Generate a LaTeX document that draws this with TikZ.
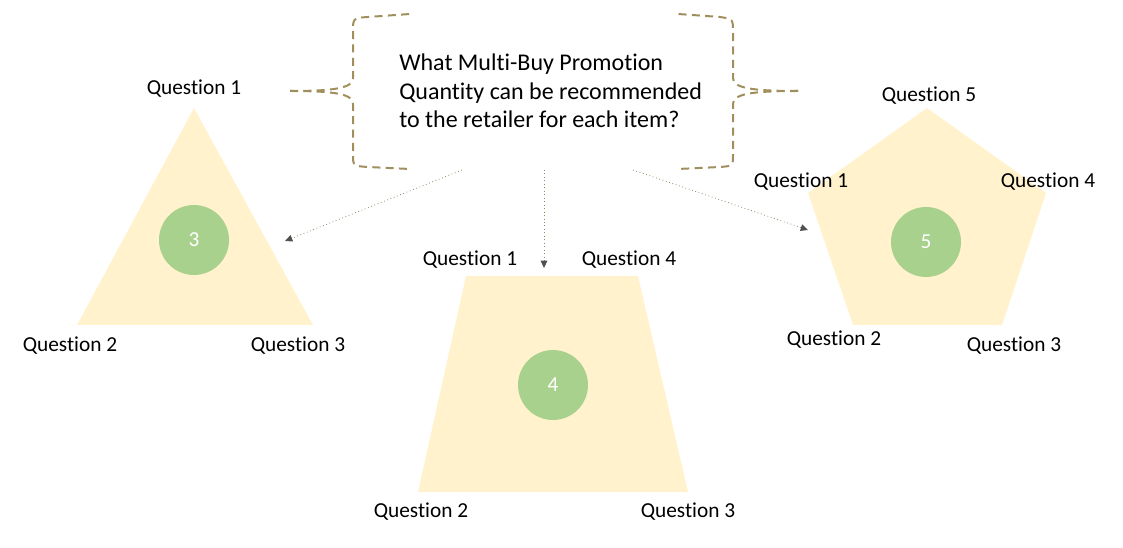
\documentclass[tikz,border=0pt]{standalone}
\usepackage{fontspec}
\setmainfont{Carlito}[Ligatures={NoCommon}]
\usetikzlibrary{arrows.meta}
\definecolor{shapefill}{RGB}{255,242,204}
\definecolor{circfill}{RGB}{169,209,142}
\definecolor{bracecol}{RGB}{160,142,92}
\definecolor{arrowline}{RGB}{120,150,100}
\definecolor{tipcol}{RGB}{80,80,80}
\begin{document}
\begin{tikzpicture}[x=0.75pt,y=-0.75pt,
  qlabel/.style={font=\fontsize{16}{19}\selectfont, inner sep=0pt},
  numcircle/.style={circle, fill=circfill, minimum size=52.5pt, inner sep=0pt, text=white, font=\fontsize{16}{19}\selectfont},
  shapebody/.style={fill=shapefill},
  bracestyle/.style={draw=bracecol, line width=1.5pt, dash pattern=on 6pt off 4pt},
  link/.style={draw=arrowline, dotted, line width=0.6pt, -{Triangle[length=5.5pt,width=5pt,color=tipcol]}}
]
\useasboundingbox (0,0) rectangle (1123,548);

% shapes
\fill[shapebody] (194,108) coordinate (triT) -- (313,325) coordinate (triR) -- (77,325) coordinate (triL) -- cycle;
\fill[shapebody] (466,276) coordinate (trapTL) -- (638,276) coordinate (trapTR) -- (688,492) coordinate (trapBR) -- (418,492) coordinate (trapBL) -- cycle;
\fill[shapebody] (927,108) coordinate (penT) -- (1046,193) coordinate (penR) -- (1002,325) coordinate (penBR) -- (853,325) coordinate (penBL) -- (808,193) coordinate (penL) -- cycle;

\node[numcircle] (c3) at (194,240) {3};
\node[numcircle] (c4) at (553,385) {4};
\node[numcircle] (c5) at (926,242) {5};

% labels
\node[qlabel] (t1) at (194,89) {Question 1};
\node[qlabel] (t2) at (70,346) {Question 2};
\node[qlabel] (t3) at (298,346) {Question 3};

\node[qlabel] (r1) at (470,260) {Question 1};
\node[qlabel] (r4) at (629,260) {Question 4};
\node[qlabel] (r2) at (421,512) {Question 2};
\node[qlabel] (r3) at (688,512) {Question 3};

\node[qlabel] (p5) at (929,96) {Question 5};
\node[qlabel] (p1) at (801,182) {Question 1};
\node[qlabel] (p4) at (1048,182) {Question 4};
\node[qlabel] (p2) at (834,340) {Question 2};
\node[qlabel] (p3) at (1014,346) {Question 3};

% question text
\node[align=left, inner sep=0pt, anchor=base west, font=\fontsize{18}{21.4}\selectfont] (q) at (399,128)
  {What Multi-Buy Promotion\\Quantity can be recommended\\to the retailer for each item?};

% braces
\draw[bracestyle] (290,91) coordinate (lbtip) .. controls (335,91) and (353,88) .. (353,78) -- (353,32)
  .. controls (353,18) .. (368,17) -- (410,14);
\draw[bracestyle] (290,91) .. controls (335,91) and (353,94) .. (353,104) -- (353,154)
  .. controls (353,166) .. (368,167) -- (410,169);
\draw[bracestyle] (798,91) coordinate (rbtip) .. controls (751,91) and (733,88) .. (733,78) -- (733,32)
  .. controls (733,19) .. (720,17) -- (678,14);
\draw[bracestyle] (798,91) .. controls (751,91) and (733,94) .. (733,104) -- (733,154)
  .. controls (733,166) .. (720,167) -- (678,169);

% connectors
\coordinate (s1) at (462,170);
\coordinate (s2) at (544,170);
\coordinate (s3) at (633,170);
\coordinate (e1) at (285,241);
\coordinate (e2) at (544,268);
\coordinate (e3) at (808,230);
\draw[link] (s1) -- (e1);
\draw[link] (s2) -- (e2);
\draw[link] (s3) -- (e3);
\end{tikzpicture}
\end{document}
